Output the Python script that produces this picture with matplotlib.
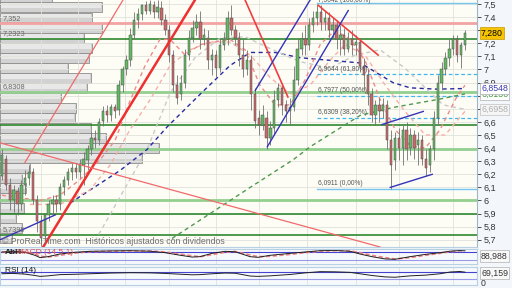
import matplotlib.pyplot as plt
import matplotlib.transforms as mtransforms
import numpy as np

plt.rcParams['font.family'] = ['Liberation Sans', 'DejaVu Sans']

# velas diarias (indice = sesion)
opens = [6.19, 6.32, 6.12, 6.00, 6.07, 5.97, 6.12, 6.17, 6.22, 6.00,
         5.84, 5.73, 5.89, 5.97, 6.00, 5.97, 6.10, 6.16, 6.22, 6.25,
         6.22, 6.27, 6.31, 6.39, 6.48, 6.46, 6.61, 6.68, 6.65, 6.71,
         6.69, 6.88, 7.00, 7.07, 7.26, 7.38, 7.42, 7.49, 7.45, 7.49,
         7.44, 7.47, 7.38, 7.30, 7.11, 6.88, 6.81, 6.90, 7.11, 7.24,
         7.32, 7.36, 7.23, 7.24, 7.07, 7.11, 7.01, 7.19, 7.23, 7.39,
         7.30, 7.24, 7.11, 7.00, 7.07, 6.81, 6.63, 6.58, 6.63, 6.48,
         6.55, 6.77, 6.86, 6.73, 6.68, 6.71, 6.92, 7.16, 7.23, 7.19,
         7.34, 7.39, 7.44, 7.36, 7.39, 7.30, 7.34, 7.23, 7.26, 7.16,
         7.23, 7.19, 7.21, 7.03, 6.96, 6.81, 6.65, 6.73, 6.68, 6.73,
         6.46, 6.31, 6.48, 6.40, 6.54, 6.40, 6.50, 6.42, 6.46, 6.32,
         6.27, 6.39, 6.63, 6.90, 7.00, 7.09, 7.16, 7.23, 7.11, 7.19]
closes = [6.35, 6.12, 6.00, 6.08, 5.97, 6.12, 6.17, 6.22, 6.00, 5.84,
          5.71, 5.89, 5.97, 6.00, 5.97, 6.10, 6.16, 6.22, 6.25, 6.22,
          6.27, 6.32, 6.39, 6.48, 6.46, 6.60, 6.68, 6.65, 6.71, 6.68,
          6.88, 7.00, 7.07, 7.26, 7.38, 7.42, 7.49, 7.45, 7.50, 7.44,
          7.48, 7.38, 7.30, 7.11, 6.88, 6.78, 6.90, 7.11, 7.24, 7.32,
          7.36, 7.23, 7.26, 7.07, 7.11, 7.01, 7.19, 7.23, 7.39, 7.30,
          7.24, 7.11, 7.00, 7.07, 6.81, 6.61, 6.58, 6.65, 6.48, 6.55,
          6.77, 6.86, 6.73, 6.68, 6.71, 6.92, 7.16, 7.23, 7.19, 7.34,
          7.39, 7.44, 7.36, 7.39, 7.30, 7.34, 7.23, 7.26, 7.16, 7.23,
          7.19, 7.21, 7.03, 6.96, 6.81, 6.65, 6.73, 6.68, 6.73, 6.46,
          6.27, 6.48, 6.40, 6.54, 6.39, 6.50, 6.40, 6.46, 6.32, 6.25,
          6.39, 6.63, 6.90, 7.00, 7.09, 7.16, 7.23, 7.11, 7.19, 7.28]
highs = [6.39, 6.35, 6.17, 6.12, 6.10, 6.16, 6.23, 6.27, 6.25, 6.04,
         5.89, 5.90, 6.00, 6.04, 6.04, 6.13, 6.19, 6.25, 6.29, 6.29,
         6.32, 6.37, 6.42, 6.52, 6.54, 6.63, 6.72, 6.73, 6.74, 6.74,
         6.92, 7.03, 7.11, 7.32, 7.44, 7.47, 7.50, 7.52, 7.53, 7.52,
         7.53, 7.52, 7.42, 7.34, 7.15, 6.96, 6.96, 7.16, 7.30, 7.38,
         7.42, 7.45, 7.32, 7.30, 7.16, 7.15, 7.23, 7.29, 7.45, 7.49,
         7.34, 7.29, 7.23, 7.15, 7.11, 6.86, 6.69, 6.73, 6.68, 6.61,
         6.84, 6.90, 6.88, 6.77, 6.78, 7.03, 7.23, 7.29, 7.34, 7.39,
         7.45, 7.50, 7.49, 7.45, 7.44, 7.39, 7.38, 7.34, 7.32, 7.29,
         7.30, 7.26, 7.24, 7.09, 7.00, 6.86, 6.77, 6.78, 6.78, 6.77,
         6.54, 6.52, 6.55, 6.58, 6.60, 6.55, 6.54, 6.52, 6.50, 6.39,
         6.42, 6.68, 6.96, 7.06, 7.13, 7.23, 7.26, 7.26, 7.21, 7.30]
lows = [6.16, 6.08, 5.93, 5.91, 5.89, 5.93, 6.04, 6.12, 5.97, 5.76,
        5.65, 5.70, 5.84, 5.89, 5.91, 5.93, 6.04, 6.12, 6.16, 6.17,
        6.17, 6.12, 6.23, 6.35, 6.40, 6.42, 6.57, 6.60, 6.61, 6.63,
        6.65, 6.83, 6.96, 7.03, 7.23, 7.32, 7.38, 7.42, 7.42, 7.39,
        7.39, 7.34, 7.26, 7.06, 6.83, 6.74, 6.77, 6.86, 7.07, 7.21,
        7.26, 7.16, 7.19, 7.00, 6.96, 6.94, 6.98, 7.15, 7.19, 7.26,
        7.19, 7.03, 6.94, 6.96, 6.69, 6.55, 6.50, 6.54, 6.39, 6.42,
        6.50, 6.71, 6.65, 6.60, 6.58, 6.68, 6.88, 7.11, 7.11, 7.15,
        7.29, 7.34, 7.30, 7.30, 7.23, 7.24, 7.16, 7.11, 7.11, 7.13,
        7.11, 7.11, 6.98, 6.84, 6.73, 6.60, 6.58, 6.60, 6.63, 6.39,
        6.09, 6.23, 6.31, 6.27, 6.31, 6.35, 6.32, 6.27, 6.27, 6.19,
        6.22, 6.31, 6.58, 6.84, 6.96, 7.03, 7.11, 7.06, 7.01, 7.15]

# medias moviles
ma_blue_idx = [17.5, 30.4, 37.3, 42.4, 50.9, 58.6, 63.8, 70.2, 76.6, 84.3, 92.1, 100.5, 104.9, 111.8, 119]
ma_blue_val = [5.98, 6.23, 6.39, 6.56, 6.81, 7.03, 7.13, 7.13, 7.09, 7.07, 7.05, 6.90, 6.86, 6.85, 6.8548]
ma_green_idx = [43.7, 63.8, 74.8, 79.2, 92.1, 100.5, 111.8, 119]
ma_green_val = [5.71, 6.10, 6.31, 6.41, 6.65, 6.71, 6.77, 6.8136]
ma_gray_idx = [23.9, 37.3, 43.2, 49.6, 56.1, 62.5, 68.9, 76.6, 84.3, 90.8, 97.2, 103.6, 108.8, 113.4, 119]
ma_gray_val = [5.69, 6.39, 6.82, 7.09, 7.24, 7.25, 7.16, 7.06, 7.01, 7.11, 7.15, 7.01, 6.86, 6.73, 6.6958]
ma_fast_idx = [0, 9.8, 14.9, 20.1, 25.2, 29.1, 32.9, 36.8, 40.6, 43.2, 47.1, 50.9, 54.8, 58.6, 62.5,
               66.3, 70.2, 74.1, 77.9, 81.8, 85.6, 89.5, 93.3, 97.2, 101.1, 104.9, 108.8, 112.6, 116.5, 119]
ma_fast_val = [6.04, 6.00, 6.04, 6.16, 6.31, 6.46, 6.76, 7.03, 7.23, 7.23, 7.11, 7.19, 7.21, 7.23, 7.15,
               6.88, 6.73, 6.73, 6.92, 7.19, 7.30, 7.23, 7.07, 6.77, 6.54, 6.42, 6.40, 6.54, 6.77, 6.88]
ma_slow_idx = [7.2, 14.9, 22.6, 27.8, 32.9, 38.1, 43.2, 48.3, 53.5, 58.6, 63.8, 68.9, 74.1, 79.2,
               84.3, 88.2, 93.3, 98.5, 103.6, 108.8, 113.9, 119]
ma_slow_val = [5.97, 5.97, 6.08, 6.27, 6.54, 6.77, 7.03, 7.15, 7.21, 7.21, 7.11, 6.94, 6.81, 6.88,
               7.07, 7.19, 7.11, 6.88, 6.68, 6.50, 6.50, 6.68]

# lineas de tendencia (indice0, precio0, indice1, precio1)
red_thick_lines = [(10.6, 5.645, 49.6, 7.53)]
red_mid_lines = [(62.5, 7.53, 73.5, 6.79), (81.3, 7.49, 96.7, 7.11)]
red_thin_lines = [(5.9, 6.29, 31.1, 7.53), (-0.5, 6.44, 97.2, 5.645)]
blue_lines = [(65.1, 6.84, 79.2, 7.53), (68.2, 6.41, 89.0, 7.45), (-0.5, 5.70, 13.7, 5.89),
              (97.7, 6.58, 108.3, 6.68), (99.8, 6.10, 110.6, 6.20)]

# soportes / resistencias
levels_pink = [7.352]
levels_dark = [7.2323, 6.576, 5.897, 5.7395]
levels_light = [6.8308, 6.393, 6.004]
left_label_vals = [7.352, 7.2323, 6.8308, 5.7395]
left_label_txt = ['7,352', '7,2323', '6,8308', '5,7395']

# Fibonacci
fib_start = 81
fib_vals = [6.0911, 6.6309, 6.7977, 6.9644, 7.5042]
fib_txt = ['6,0911 (0,00%)', '6,6309 (38,20%)', '6,7977 (50,00%)', '6,9644 (61,80%)', '7,5042 (100,00%)']

# volumen por precio
vp_prices = [7.553, 7.477, 7.397, 7.317, 7.240, 7.164, 7.088, 7.011, 6.935, 6.859, 6.782, 6.706,
             6.630, 6.553, 6.477, 6.401, 6.324, 6.248, 6.172, 6.095, 6.019, 5.943, 5.866, 5.790, 5.714]
vp_volumes = [52, 102, 92, 102, 84, 92, 89, 68, 91, 87, 61, 76, 75, 91, 106, 159, 142,
              30, 22, 26, 20, 24, 16, 22, 12]

# eje de precios (las que tapan las etiquetas de valor quedan vacias)
price_ticks = [5.7, 5.8, 5.9, 6.0, 6.1, 6.2, 6.3, 6.4, 6.5, 6.6, 6.7, 6.8, 6.9, 7.0, 7.1, 7.2, 7.3, 7.4, 7.5]
price_tick_labels = ['5,7', '5,8', '5,9', '6', '6,1', '6,2', '6,3', '6,4', '6,5', '6,6', '', '',
                     '6,9', '7', '7,1', '7,2', '', '7,4', '7,5']
month_idx = [10, 19.5, 31.5, 43, 55, 66, 78.5, 91, 102, 116]

# indicadores inferiores
ind_idx = [0, 2.6, 5.9, 8.5, 9.8, 11.8, 14.9, 18.8, 22.6, 27.8, 32.9, 38.1, 41.9, 45.3, 48.9, 50.9, 54.0,
           57.3, 59.9, 63.8, 65.8, 68.9, 74.1, 77.9, 81.8, 85.6, 89.5, 92.0, 95.1, 98.5, 101.0, 104.9,
           108.8, 112.6, 115.2, 117.7, 119]
osc_black = [80, 82, 78, 55, 38, 45, 65, 78, 85, 88, 90, 86, 75, 58, 42, 45, 70, 85, 82, 45, 40, 55,
             70, 80, 90, 92, 85, 65, 45, 28, 25, 45, 62, 75, 86, 91, 88.988]
osc_red = [78, 80, 80, 65, 48, 42, 55, 72, 82, 86, 88, 88, 80, 66, 52, 44, 60, 78, 84, 58, 45, 48,
           62, 75, 86, 90, 88, 75, 55, 38, 28, 38, 55, 70, 82, 89, 90]
rsi_vals = [60, 62, 58, 50, 45, 48, 55, 57, 60, 64, 66, 65, 62, 58, 54, 55, 60, 64, 63, 47, 45, 48,
            56, 65, 72, 71, 68, 60, 50, 42, 40, 48, 52, 60, 70, 73, 69.159]

W, H = 512, 288


def rect(x0, y0, x1, y1):
    return [x0 / W, 1 - y1 / H, (x1 - x0) / W, (y1 - y0) / H]


fig = plt.figure(figsize=(W / 100, H / 100), dpi=100)
fig.patch.set_facecolor('#f3f7fb')
ylim = (5.645, 7.5305)
xlim = (-0.5, 122.1)

# fondo + volumen por precio
ax_bg = fig.add_axes(rect(0, 0, 477, 247))
ax_bg.set_facecolor('#fdfdf6')
ax_bg.set_xlim(0, 477)
ax_bg.set_ylim(*ylim)
ax_bg.barh(vp_prices, vp_volumes, height=0.072, color='#d2d2d2', edgecolor='#8e8e8e', lw=0.6)
ax_bg.barh(np.array(vp_prices) + 0.012, np.array(vp_volumes) - 2, height=0.035, left=1,
           color='#e8e8e8', lw=0)
ax_bg.set_xticks([])
ax_bg.set_yticks([])
for s in ax_bg.spines.values():
    s.set_visible(False)

ax = fig.add_axes(rect(0, 0, 477, 247))
ax.patch.set_visible(False)
ax.set_xlim(*xlim)
ax.set_ylim(*ylim)
ax.yaxis.tick_right()
ax.set_yticks(price_ticks)
ax.set_yticklabels(price_tick_labels)
ax.tick_params(axis='y', length=3, pad=2, labelsize=6.5, colors='#333333', width=0.6)
ax.set_xticks(month_idx)
ax.set_xticklabels([])
ax.tick_params(axis='x', length=0)
ax.grid(True, color='#e2e2dc', lw=0.6, zorder=0)
for k in ['top', 'left']:
    ax.spines[k].set_visible(False)
ax.spines['right'].set_color('#9fb6c8')
ax.spines['bottom'].set_color('#b8d0e4')

# niveles horizontales
for v in levels_pink:
    ax.axhline(v, color='#f2a3a3', lw=2.0, zorder=3)
for v in levels_dark:
    ax.axhline(v, color='#1f7f1f', lw=1.1, zorder=3)
for v in levels_light:
    ax.axhline(v, color='#93cf8f', lw=2.0, zorder=3)
for v, t in zip(left_label_vals, left_label_txt):
    ax.text(0.006, v + 0.012, t, transform=mtransforms.blended_transform_factory(ax.transAxes, ax.transData),
            fontsize=5.3, color='#6a6a6a', va='bottom', zorder=8)

# Fibonacci
for k, (v, t) in enumerate(zip(fib_vals, fib_txt)):
    if k in (0, len(fib_vals) - 1):
        ax.plot([fib_start, xlim[1]], [v, v], color='#74c6ee', lw=1.0, zorder=3)
    else:
        ax.plot([fib_start, xlim[1]], [v, v], color='#3fb6ee', lw=0.9, ls=(0, (3, 2)), zorder=3)
    yoff = -0.005 if k == len(fib_vals) - 1 else 0.012
    ax.text(fib_start + 0.3, v + yoff, t, fontsize=4.8, color='#555555', va='bottom', zorder=8)

# medias moviles
ax.plot(ma_blue_idx, ma_blue_val, color='#2a2aa0', lw=1.0, ls=(0, (3, 2.5)), zorder=3)
ax.plot(ma_green_idx, ma_green_val, color='#4f9a4f', lw=1.0, ls=(0, (3, 2.5)), zorder=3)
ax.plot(ma_gray_idx, ma_gray_val, color='#c9c9c9', lw=1.0, ls=(0, (3, 2.5)), zorder=3)
ax.plot(ma_fast_idx, ma_fast_val, color='#f08a8a', lw=1.0, ls=(0, (3, 2.5)), zorder=3)
ax.plot(ma_slow_idx, ma_slow_val, color='#f5b0a8', lw=1.0, ls=(0, (3, 2.5)), zorder=3)

# velas
idx = np.arange(len(closes))
o, c, h, l = map(np.array, (opens, closes, highs, lows))
up = c >= o
ax.vlines(idx, l, h, color='#707070', lw=0.6, zorder=4)
ax.bar(idx[up], (c - o)[up], bottom=o[up], width=0.6, color='#63b863', edgecolor='#4c4c4c',
       lw=0.35, zorder=5)
ax.bar(idx[~up], (o - c)[~up], bottom=c[~up], width=0.6, color='#c96a6a', edgecolor='#4c4c4c',
       lw=0.35, zorder=5)

# lineas de tendencia
for x0, y0, x1, y1 in red_thick_lines:
    ax.plot([x0, x1], [y0, y1], color='#ee3030', lw=1.8, zorder=6)
for x0, y0, x1, y1 in red_mid_lines:
    ax.plot([x0, x1], [y0, y1], color='#ee4040', lw=1.2, zorder=6)
for x0, y0, x1, y1 in red_thin_lines:
    ax.plot([x0, x1], [y0, y1], color='#f06a6a', lw=0.9, zorder=6)
for x0, y0, x1, y1 in blue_lines:
    ax.plot([x0, x1], [y0, y1], color='#3434b8', lw=1.0, zorder=6)

# etiquetas a la derecha
tr = mtransforms.blended_transform_factory(fig.transFigure, ax.transData)
xr = 481 / W
ax.text(xr, 7.28, '7,280', transform=tr, fontsize=6.3, color='#000000', va='center', zorder=10,
        bbox=dict(boxstyle='square,pad=0.15', fc='#f6c400', ec='#c89a00', lw=0.5))
ax.text(xr, 6.6958, '6,6958', transform=tr, fontsize=6.3, color='#b0b0b0', va='center', zorder=10,
        bbox=dict(boxstyle='square,pad=0.15', fc='#f5f5f5', ec='#c0c0c0', lw=0.5))
ax.text(xr, 6.8136, '6,8136', transform=tr, fontsize=6.3, color='#3c9a3c', va='center', zorder=10,
        bbox=dict(boxstyle='square,pad=0.15', fc='#ffffff', ec='#b0b0b0', lw=0.5))
ax.text(xr, 6.8548, '6,8548', transform=tr, fontsize=6.3, color='#3a3ab0', va='center', zorder=11,
        bbox=dict(boxstyle='square,pad=0.15', fc='#ffffff', ec='#b0b0b0', lw=0.5))

fig.text(2 / W, 1 - 242 / H, '\u00a9 ProRealTime.com  Hist\u00f3ricos ajustados con dividendos',
         fontsize=6.3, color='#6e6e6e', va='center')

# panel oscilador
ax_osc = fig.add_axes(rect(0, 249, 477, 264))
ax_osc.set_facecolor('#f7fafd')
ax_osc.set_xlim(*xlim)
ax_osc.set_ylim(-10, 102.5)
ax_osc.axhline(80, color='#4444d0', lw=0.8)
ax_osc.axhline(20, color='#9a9ae8', lw=0.8)
ax_osc.plot(ind_idx, osc_red, color='#f08080', lw=1.2, ls=(0, (2.5, 1.5)))
ax_osc.plot(ind_idx, osc_black, color='#202020', lw=0.7)
ax_osc.text(0.8, 100, 'AbH', fontsize=6, color='#222222', va='top', fontweight='bold')
ax_osc.text(3.8, 100, 'MACD (14 5 1)', fontsize=6, color='#e05050', va='top')

# panel RSI
ax_rsi = fig.add_axes(rect(0, 267, 477, 285))
ax_rsi.set_facecolor('#f7fafd')
ax_rsi.set_xlim(*xlim)
ax_rsi.set_ylim(-4.3, 98.6)
ax_rsi.axhline(70, color='#4444d0', lw=0.8)
ax_rsi.axhline(30, color='#9a9ae8', lw=0.8)
ax_rsi.plot(ind_idx, rsi_vals, color='#202020', lw=0.7)
ax_rsi.text(0.8, 96, 'RSI (14)', fontsize=6, color='#111111', va='top')

for a in (ax_osc, ax_rsi):
    a.set_xticks(month_idx)
    a.set_xticklabels([])
    a.set_yticks([])
    a.tick_params(axis='x', length=0)
    a.grid(True, axis='x', color='#e2e2dc', lw=0.6)
    for s in a.spines.values():
        s.set_color('#b8d0e4')

fig.text(xr, 1 - 256 / H, '88,988', fontsize=6.3, color='#333333', va='center',
         bbox=dict(boxstyle='square,pad=0.15', fc='#f8f8f8', ec='#b0b0b0', lw=0.5))
fig.text(xr, 1 - 273 / H, '69,159', fontsize=6.3, color='#333333', va='center',
         bbox=dict(boxstyle='square,pad=0.15', fc='#f8f8f8', ec='#b0b0b0', lw=0.5))
fig.text(xr, 1 - 283 / H, '0', fontsize=6.3, color='#333333', va='center')

plt.savefig('out.png', dpi=100, facecolor=fig.get_facecolor())
